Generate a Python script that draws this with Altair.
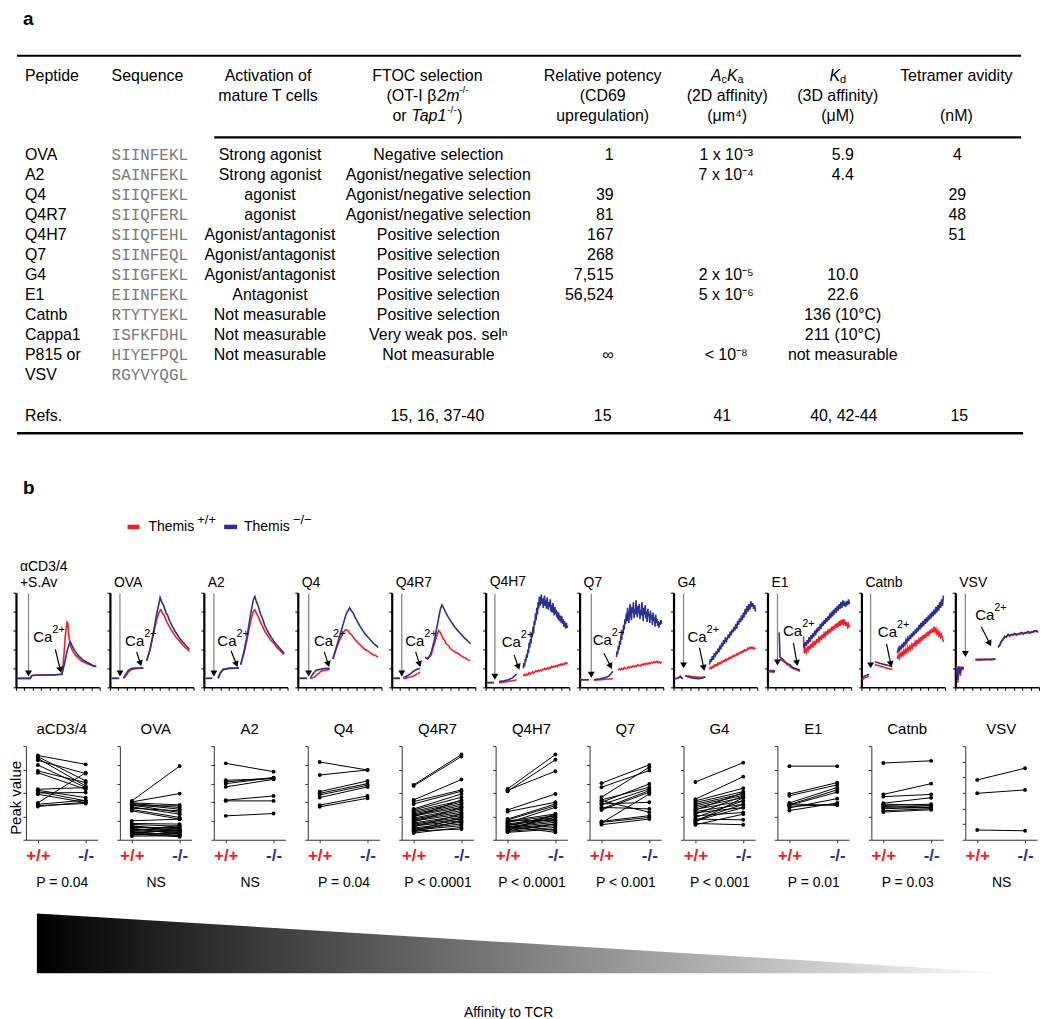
import math
import altair as alt
import pandas as pd

FONT = "Liberation Sans, Arial, Helvetica, sans-serif"
MONO = "Courier New, Liberation Mono, monospace"
RED = "#f0202a"
BLUE = "#2c3291"
OX = 8  # page x of figure origin (layout)

# ======================= part a : table data =======================
PEPTIDES = ["OVA", "A2", "Q4", "Q4R7", "Q4H7", "Q7", "G4", "E1", "Catnb", "Cappa1", "P815 or", "VSV"]
SEQUENCES = ["SIINFEKL", "SAINFEKL", "SIIQFEKL", "SIIQFERL", "SIIQFEHL", "SIINFEQL", "SIIGFEKL",
             "EIINFEKL", "RTYTYEKL", "ISFKFDHL", "HIYEFPQL", "RGYVYQGL"]
ACTIVATION = ["Strong agonist", "Strong agonist", "agonist", "agonist", "Agonist/antagonist",
              "Agonist/antagonist", "Agonist/antagonist", "Antagonist", "Not measurable",
              "Not measurable", "Not measurable", ""]
FTOC = ["Negative selection", "Agonist/negative selection", "Agonist/negative selection",
        "Agonist/negative selection", "Positive selection", "Positive selection", "Positive selection",
        "Positive selection", "Positive selection", "Very weak pos. selⁿ", "Not measurable", ""]
POTENCY = ["1", "", "39", "81", "167", "268", "7,515", "56,524", "", "", "∞", ""]
ACKA = ["1 x 10⁻³", "7 x 10⁻⁴", "", "", "", "", "2 x 10⁻⁵", "5 x 10⁻⁶", "", "", "< 10⁻⁸", ""]
KD = ["5.9", "4.4", "", "", "", "", "10.0", "22.6", "136 (10°C)", "211 (10°C)", "not measurable", ""]
TETRAMER = ["4", "", "29", "48", "51", "", "", "", "", "", "", ""]
REFS = {"ftoc": "15, 16, 37-40", "potency": "15", "acka": "41", "kd": "40, 42-44", "tetramer": "15"}

# ======================= part b : calcium traces =======================
TRACE_NAMES = [["αCD3/4", "+S.Av"], "OVA", "A2", "Q4", "Q4R7", "Q4H7", "Q7", "G4", "E1", "Catnb", "VSV"]
# segments: list of (time, value) pairs, or (t_start, t_end, values sampled at equal time steps)
TRACES = [
    {"red": [[(1, 9.5), (17, 9.5), (19, 12.5), (30, 13), (45, 13), (55, 13.5), (57, 30), (59, 55), (61, 69),
              (62, 68), (63, 55), (65, 44), (68, 38), (72, 33), (78, 28), (85, 25), (92, 22.5), (96, 22)]],
     "blue": [[(1, 9.5), (17, 9.5), (19, 12.5), (30, 13), (45, 13), (55, 14), (58, 25), (61, 38), (64, 47),
               (65, 48), (67, 44), (70, 39), (74, 34), (80, 29), (86, 26), (92, 23), (96, 22)]]},
    {"red": [[(2, 9.5), (11, 9.5)], [(16, 9.5), (19, 12), (22, 16), (26, 19), (33, 20), (40, 20.5)],
             [(44, 28), (48, 40), (52, 56), (56, 72), (59, 80), (61, 82), (63, 78), (65, 76), (68, 69), (70, 66),
              (73, 61), (76, 57), (79, 53), (82, 50), (85, 47), (88, 44), (90, 42), (93, 40), (95, 38)]],
     "blue": [[(2, 9.5), (11, 9.5)], [(16, 10), (19, 14), (22, 18), (26, 20), (33, 20.5), (40, 20.5)],
              [(44, 28), (48, 40), (52, 58), (56, 78), (59, 90), (60, 95), (62, 90), (64, 87), (67, 79), (69, 76),
               (72, 69), (75, 64), (78, 59), (81, 55), (84, 51), (87, 48), (90, 45), (93, 42), (95, 40)]]},
    {"red": [[(2, 9.5), (10, 9.5)], [(17, 9.5), (20, 15), (23, 18.5), (30, 20), (42, 20.5)],
             [(44, 24), (48, 36), (52, 52), (56, 70), (59, 80), (61, 82), (63, 78), (65, 75), (68, 68), (70, 65),
              (73, 59), (76, 55), (79, 51), (82, 48), (85, 45), (88, 41), (91, 39), (94, 36), (96, 35)]],
     "blue": [[(2, 9.5), (10, 9.5)], [(17, 10), (20, 16), (23, 19), (30, 20), (42, 20.5)],
              [(44, 24), (48, 38), (52, 56), (56, 78), (59, 92), (61, 96), (63, 90), (65, 86), (68, 77), (70, 73),
               (73, 65), (76, 60), (79, 55), (82, 51), (85, 47), (88, 44), (91, 41), (94, 38), (96, 36)]]},
    {"red": [[(2, 9.5), (11, 9.5)], [(15, 9), (20, 11), (24, 14), (28, 17), (33, 18), (38, 19)],
             [(42, 30), (45, 38), (49, 48), (53, 56), (57, 61), (60, 60), (62, 57), (64, 56), (67, 52), (69, 50),
              (72, 47), (74, 45), (77, 43), (80, 40), (83, 39), (86, 37), (89, 35), (92, 34), (96, 32)]],
     "blue": [[(2, 9.5), (11, 9.5)], [(15, 10), (18, 14), (22, 18), (27, 19), (33, 20), (38, 20)],
              [(42, 30), (46, 42), (50, 54), (54, 66), (58, 78), (62, 84), (64, 81), (66, 79), (69, 73), (71, 70),
               (74, 65), (77, 61), (80, 57), (83, 54), (86, 51), (89, 48), (92, 45), (94, 44), (96, 42)]]},
    {"red": [[(2, 9.5), (10, 9.5)], [(14, 9), (18, 10), (22, 11), (26, 12), (30, 14), (34, 16)],
             [(40, 32), (43, 30), (47, 34), (51, 46), (54, 55), (56, 60), (58, 58), (61, 52), (63, 50), (65, 46),
              (68, 44), (70, 41), (73, 39), (76, 37), (79, 36), (82, 34), (85, 32), (88, 31), (91, 29), (94, 28)]],
     "blue": [[(2, 9.5), (10, 9.5)], [(14, 10), (18, 12), (22, 14), (26, 17), (30, 19), (34, 20)],
              [(40, 32), (43, 30), (47, 36), (51, 50), (55, 68), (58, 82), (60, 87), (62, 84), (64, 80), (67, 75),
               (69, 72), (72, 68), (75, 64), (78, 61), (81, 58), (84, 55), (87, 52), (90, 50), (94, 46)]]},
    {"red": [[(2, 5), (10, 5)], [(16, 5), (25, 6), (32, 7), (37, 8)],
             (45, 98, [12, 13.5, 12.5, 14, 13, 15.5, 14, 15, 16.5, 15, 16, 17.5, 16.5, 18, 17, 18.5, 17.5, 19, 18.5,
                       20, 19, 20.5, 19.5, 21, 20, 22, 21, 22.5, 21.5, 23, 22, 24, 23, 24.5, 23.5, 25, 24, 26, 25,
                       26])],
     "blue": [[(2, 5), (10, 5)], [(16, 6), (22, 7), (27, 8), (32, 10), (37, 14)],
              (45, 98, [20, 26, 22, 30, 27, 35, 31, 40, 36, 47, 42, 51, 46, 58, 53, 64, 57, 70, 66, 78, 71, 84, 77,
                        90, 83, 96, 86, 92, 98, 88, 94, 84, 91, 97, 86, 92, 83, 95, 88, 82, 90, 85, 93, 80, 87, 79,
                        89, 83, 76, 85, 78, 82, 74, 80, 72, 79, 70, 76, 73, 68, 75, 67, 72, 64, 70, 66, 62, 68, 63,
                        65])]},
    {"red": [[(1, 8), (11, 8)], [(17, 7.5), (25, 8), (32, 8.5), (40, 9)],
             (46, 98, [18, 19.5, 18.5, 20, 19, 21, 20, 19.5, 21.5, 20.5, 22, 21, 22.5, 21.5, 23, 22, 24, 23, 22.5,
                       24.5, 23.5, 25, 24, 25.5, 24.5, 26, 25, 26.5, 25.5, 27, 26, 27.5, 26, 27, 25.5, 27])],
     "blue": [[(1, 8), (11, 8)], [(17, 8), (24, 9), (30, 10), (35, 12), (40, 17)],
              (44, 98, [32, 38, 35, 44, 40, 49, 45, 55, 50, 60, 56, 66, 61, 72, 67, 78, 70, 84, 74, 68, 80, 88, 76,
                        71, 85, 79, 90, 73, 83, 77, 92, 80, 74, 86, 78, 88, 72, 82, 76, 90, 79, 70, 84, 77, 87, 73,
                        80, 69, 83, 75, 78, 68, 81, 72, 76, 66, 79, 70, 74, 64, 77, 68, 72, 65, 70, 63, 69, 66, 71,
                        67])]},
    {"red": [[(1, 9), (5, 9.5), (8, 12), (11, 9)],
             [(14, 12), (18, 12), (22, 11.5), (26, 11), (30, 10.5), (34, 10.5), (38, 11)],
             (43, 98, [19, 21, 20, 22, 21, 23.5, 22.5, 24, 23, 25.5, 24.5, 26, 25, 27.5, 26.5, 28, 27.5, 29.5, 28.5,
                       30, 29.5, 31.5, 30.5, 32, 31.5, 33.5, 32.5, 34, 33.5, 35.5, 34.5, 36, 35.5, 37.5, 36.5, 38,
                       37.5, 39.5, 38.5, 40, 39.5, 41.5, 40.5, 42, 41, 42.5, 41, 42, 40.5, 41])],
     "blue": [[(1, 9), (5, 9.5), (8, 11), (11, 9)],
              [(14, 12), (18, 11), (22, 10), (26, 9.5), (30, 9), (34, 9.5), (38, 11)],
              (43, 98, [24, 30, 27, 33, 29, 36, 32, 38, 35, 41, 37, 44, 40, 47, 43, 50, 46, 53, 49, 51, 56, 52, 59,
                        55, 61, 58, 64, 60, 67, 62, 70, 66, 73, 69, 76, 71, 79, 74, 83, 77, 86, 80, 88, 82, 91, 85,
                        89, 83, 87, 80])]},
    {"red": [[(1, 17), (4, 16), (7, 18), (9, 17)],
             [(15, 30), (18, 28), (21, 26), (24, 24), (27, 22), (30, 20), (33, 19), (36, 18), (39, 17)],
             (43, 98, [54, 36, 40, 37, 42, 39, 44, 40, 46, 42, 47, 44, 49, 45, 51, 47, 52, 49, 54, 50, 56, 52, 57,
                       54, 59, 55, 61, 57, 62, 58, 64, 60, 65, 61, 67, 63, 68, 64, 70, 65, 71, 66, 72, 67, 70, 65,
                       69, 64, 67, 63])],
     "blue": [[(1, 17), (4, 18), (7, 16), (9, 17)],
              [(14, 58), (15, 32), (18, 30), (21, 27), (24, 25), (27, 24), (30, 21), (33, 20), (36, 19), (39, 18)],
              (43, 98, [46, 42, 48, 44, 50, 46, 53, 48, 55, 51, 57, 53, 60, 55, 62, 58, 64, 60, 67, 62, 69, 65, 71,
                        67, 73, 69, 75, 71, 78, 73, 80, 75, 82, 77, 84, 79, 86, 81, 88, 83, 90, 84, 92, 86, 89, 85,
                        91, 87, 93, 88])]},
    {"red": [[(1, 8), (4, 10), (7, 11), (9, 12)],
             [(16, 24), (20, 23), (24, 22), (28, 21), (32, 20), (37, 19)],
             (43, 98, [30, 34, 31, 36, 33, 37, 34, 39, 36, 40, 37, 42, 39, 43, 40, 45, 42, 47, 43, 48, 45, 50, 46,
                       51, 48, 53, 49, 55, 51, 56, 52, 58, 54, 59, 55, 61, 57, 62, 58, 64, 59, 62, 57, 60, 55, 58,
                       53, 56, 52, 48])],
     "blue": [[(1, 10), (4, 12), (7, 13), (9, 14)],
              [(16, 27), (20, 26), (24, 25), (28, 24), (32, 23), (37, 22)],
              (43, 98, [36, 41, 38, 44, 40, 46, 42, 48, 45, 50, 47, 52, 49, 55, 51, 57, 53, 59, 55, 61, 57, 63, 59,
                        66, 61, 68, 63, 70, 65, 72, 67, 74, 69, 76, 71, 78, 73, 80, 75, 82, 77, 85, 79, 87, 81, 90,
                        84, 93, 86, 97])]},
    {"red": [[(1, 20), (2, 22), (3, 5), (4, 18), (5, 22), (6, 12), (7, 20), (8, 21), (9, 19), (10, 21)],
             [(24, 29), (30, 29.5), (36, 29), (42, 30), (48, 29.5)],
             (51, 99, [42, 45, 48, 51, 53, 54, 55, 54, 56, 55, 56, 55, 57, 56, 57, 56, 58, 57, 58, 57, 59, 58, 59,
                       60, 58])],
     "blue": [[(1, 21), (2, 20), (3, 8), (4, 21), (5, 20), (6, 15), (7, 21), (8, 20), (9, 21), (10, 20)],
              [(24, 29.5), (30, 29), (36, 30), (42, 29), (48, 30)],
              (51, 99, [43, 44, 49, 50, 54, 53, 56, 55, 55, 56, 57, 56, 56, 57, 58, 57, 57, 58, 59, 58, 58, 59, 60,
                        59, 59])]},
]
# stimulus addition (time, baseline reached) and Ca2+ addition arrows (from -> to), label centre
STIM_ARROW = [(15, 10.5), (12, 10.5), (12, 10.5), (13, 10.5), (12, 10.5), (11, 7), (14, 9), (12, 19), (12, 22),
              (11, 19), (12, 31)]
CA_ARROW = [((47, 40), (54, 15)), ((32, 37.5), (37.7, 21.7)), ((32.5, 38.6), (40.5, 21)), ((31.7, 37.5), (37.7, 21)),
            ((28.6, 37.5), (34.5, 21)), ((34, 34), (40.5, 18)), ((29, 36), (39, 19)), ((31, 42), (37, 17)),
            ((31, 47), (36, 22)), ((30, 46), (36, 21)), ((31, 64), (43, 43))]
CA_LABEL = [(39, 53), (36.5, 49), (34.5, 49), (37.7, 49), (34.5, 49), (37.5, 48), (34, 50), (35, 53), (37, 60),
            (38, 58), (42, 76)]

# ======================= part b : paired peak values =======================
DOT_NAMES = ["aCD3/4", "OVA", "A2", "Q4", "Q4R7", "Q4H7", "Q7", "G4", "E1", "Catnb", "VSV"]
P_VALUES = ["P = 0.04", "NS", "NS", "P = 0.04", "P < 0.0001", "P < 0.0001", "P < 0.001", "P < 0.001",
            "P = 0.01", "P = 0.03", "NS"]
DOT_TICKS = [4, 5, 5, 5, 4, 4, 5, 4, 4, 4, 6]
PEAK_WT = [
    [90, 88.7, 86.9, 84.8, 79.8, 73.4, 71.6, 53.9, 52.8, 51.4, 50, 48.6, 39.4, 37.9, 36.5, 35.5],
    [41.5, 40.4, 39.4, 38.7, 37.9, 37.2, 36.2, 35.1, 33.7, 32.3, 30.9, 20.2, 17.4, 14.9, 13.1, 12.1, 11, 9.9, 8.9,
     7.8, 6.7, 6, 5, 3.9, 16.3, 14.2, 11.7, 9.6, 7.4, 5.3],
    [81.6, 63.5, 61.7, 59.9, 56.4, 42.2, 41.5, 25.5],
    [83, 69.1, 51.4, 49.6, 47.9, 45, 36.9, 35.1],
    [58.6, 57.5, 42.5, 40.7, 38.2, 32.9, 31.8, 30.4, 28.9, 27.5, 26.4, 25.4, 24.3, 23.2, 22.1, 21.1, 20, 18.9, 17.9,
     16.8, 15.7, 14.6, 13.6, 12.5, 11.4, 10.4, 9.3, 8.2, 7.1, 9.6],
    [54.3, 51.8, 52.9, 31.8, 30, 22.1, 21.1, 20, 18.9, 17.9, 16.8, 15.7, 15, 13.9, 13.2, 12.1, 11.1, 10, 8.9, 7.9,
     20.4, 17.5, 14.6, 11.8, 9.6],
    [60.4, 56.1, 45.4, 42.5, 40, 38.2, 37.5, 32.9, 31.8, 41.8, 34.6, 19.6, 17.9, 16.1, 18.6],
    [61.7, 43.3, 41.5, 39.7, 37.9, 36.2, 34.4, 32.6, 31.6, 30.1, 28.7, 27.3, 25.5, 23.8, 22, 20.2, 18.8, 17.4, 16,
     20.9],
    [78.6, 48.8, 47, 39.3, 37.5, 35.8, 34, 31.2, 36.8, 38.2],
    [81.9, 48.4, 46, 39, 36.6, 34.5, 33.1, 31, 29.6, 38, 35.5],
    [63.9, 49.6, 10.4],
]
PEAK_KO = [
    [80.5, 62.8, 57.4, 70.6, 55.7, 61, 53.9, 55.7, 45, 41.5, 50.4, 39.7, 71.6, 42.2, 38.7, 40.1],
    [78.7, 49.3, 37.2, 34.4, 32.6, 29.1, 36.2, 27.3, 30.9, 23.8, 22, 22, 16.7, 9.6, 13.1, 6, 11.3, 7.8, 4.3, 9.6, 6,
     3.2, 7.8, 4.3, 14.5, 11.7, 8.9, 15.2, 10.3, 6.7],
    [72.7, 65.2, 66.3, 66.3, 64.5, 46.8, 41.5, 28],
    [74.5, 74.5, 62.8, 59.9, 58.2, 56.4, 46.8, 44.3],
    [91, 88.9, 64.3, 53.2, 51.8, 48.9, 45.4, 41.8, 40, 38.2, 36.4, 34.6, 42.5, 32.9, 31.1, 29.3, 27.5, 34.6, 25.7,
     23.9, 22.1, 20.4, 27.5, 18.6, 16.8, 15, 11.4, 20.4, 13.2, 23.9],
    [91, 85.4, 73.2, 48.9, 40, 38.2, 36.4, 27.5, 25.7, 34.6, 23.9, 22.1, 25.7, 20.4, 18.6, 16.8, 15, 27.5, 13.2,
     11.4, 20.4, 9.6, 7.9, 23.9, 16.8],
    [80, 73.9, 77.5, 56.1, 59.6, 40, 54.3, 52.5, 50.7, 29.3, 32.9, 25.7, 48.9, 22.1, 23.9],
    [82.3, 67.4, 55, 51.4, 49.3, 47.5, 45, 41.5, 50.4, 37.9, 34.4, 46.8, 29.1, 41.5, 21.3, 34.4, 45, 16, 27.3, 37.9],
    [78.6, 61, 58.6, 55.8, 53.3, 37.5, 43.9, 39.3, 50.9, 36.8],
    [84.3, 59.9, 48.4, 44.9, 38, 36.2, 34.5, 33.1, 32, 36.6, 33.8],
    [76.4, 53.2, 9.6],
]
GENOTYPES = ["+/+", "-/-"]
Y_TITLE = "Peak value"
AFFINITY_X = [0, 1]
AFFINITY = [1, 0]

# ======================= layout constants =======================
TABLE_W, TABLE_H = 1016, 545
TR_W, TR_H, TR_SP = 84, 95, 10.3
DOT_W, DOT_H, DOT_SP = 72, 94, 22.3

# ======================= build table =======================
TY = alt.Scale(domain=[20, -7.25], nice=False, zero=False)
layers = []


def txt(rows, texts, px, align="left", font=FONT, size=16, color="black", style="normal", weight="normal", dy=0):
    df = pd.DataFrame({"row": rows, "t": texts})
    df = df[df["t"] != ""]
    layers.append(
        alt.Chart(df).mark_text(align=align, baseline="middle", font=font, fontSize=size, color=color,
                                fontStyle=style, fontWeight=weight, dy=dy)
        .encode(x=alt.value(px - OX), y=alt.Y("row:Q", scale=TY, axis=None), text="t:N"))


def hrule(row, x0, x1, w=2, color="black"):
    layers.append(
        alt.Chart(pd.DataFrame({"row": [row]})).mark_rule(strokeWidth=w, color=color)
        .encode(x=alt.value(x0 - OX), x2=alt.value(x1 - OX), y=alt.Y("row:Q", scale=TY, axis=None)))


R = list(range(len(PEPTIDES)))
txt([-6.85], ["a"], 21, size=19, weight="bold")
hrule(-5.0, 15, 1023, 2.2)
hrule(-0.9, 213, 1023, 2.2)
hrule(13.95, 15, 1025, 2.6)
# headers
txt([-4], ["Peptide"], 23)
txt([-4], ["Sequence"], 110)
txt([-4, -3], ["Activation of", "mature T cells"], 267, align="center")
txt([-4], ["FTOC selection"], 427, align="center")
txt([-3], ["(OT-I β"], 386)
txt([-3], ["2m"], 437, style="italic")
txt([-3], ["-/-"], 459, size=10, dy=-6)
txt([-2], ["or "], 392)
txt([-2], ["Tap1"], 411, style="italic")
txt([-2], ["-/-"], 447, size=10, dy=-6)
txt([-2], [")"], 457)
txt([-4, -3, -2], ["Relative potency", "(CD69", "upregulation)"], 603, align="center")
txt([-4], ["A"], 711.5, style="italic")
txt([-4], ["c"], 722.2, size=11, dy=4)
txt([-4], ["K"], 727.7, style="italic")
txt([-4], ["a"], 738.4, size=11, dy=4)
txt([-3, -2], ["(2D affinity)", "(μm⁴)"], 728, align="center")
txt([-4], ["K"], 830.6, style="italic")
txt([-4], ["d"], 841.3, size=11, dy=4)
txt([-3, -2], ["(3D affinity)", "(μM)"], 839, align="center")
txt([-4, -2], ["Tetramer avidity", "(nM)"], 958, align="center")
# body
txt(R, PEPTIDES, 23)
txt(R, SEQUENCES, 110, font=MONO, color="#7a7a7a")
txt(R, ACTIVATION, 269, align="center")
txt(R, FTOC, 438, align="center")
txt(R, POTENCY, 614, align="right")
txt(R, ACKA, 727, align="center")
txt(R, KD, 844, align="center")
txt(R, TETRAMER, 959, align="center")
txt([13.1], ["Refs."], 23)
txt([13.1], [REFS["ftoc"]], 437, align="center")
txt([13.1], [REFS["potency"]], 603, align="center")
txt([13.1], [REFS["acka"]], 723, align="center")
txt([13.1], [REFS["kd"]], 845, align="center")
txt([13.1], [REFS["tetramer"]], 961, align="center")
# part b label and legend
txt([16.7], ["b"], 21, size=19, weight="bold")
hrule(18.65, 126, 138, 4.5, RED)
hrule(18.65, 223, 236, 4.5, BLUE)
txt([18.65], ["Themis"], 147, size=14)
txt([18.65], ["+/+"], 196, size=13, dy=-7)
txt([18.65], ["Themis"], 243, size=14)
txt([18.65], ["−/−"], 292, size=13, dy=-7)

table = alt.layer(*layers).properties(width=TABLE_W, height=TABLE_H)

# ======================= trace panels =======================
XS = alt.Scale(domain=[0, 100], nice=False, zero=False)
YS = alt.Scale(domain=[0, 100], nice=False, zero=False)


def seg_points(seg):
    if isinstance(seg, tuple):
        x0, x1, ys = seg
        n = len(ys)
        return [(x0 + (x1 - x0) * k / (n - 1), y) for k, y in enumerate(ys)]
    return seg


def trace_panel(i):
    rows = []
    for series in ("red", "blue"):
        for si, seg in enumerate(TRACES[i][series]):
            for x, y in seg_points(seg):
                rows.append({"x": x, "y": y, "s": series, "k": f"{series}{si}"})
    df = pd.DataFrame(rows)
    xa = alt.Axis(values=list(range(0, 101, 10)), labels=False, title=None, tickSize=3, domainWidth=1.5,
                  grid=False, domainColor="black", tickColor="black")
    ya = alt.Axis(values=list(range(0, 101, 20)), labels=False, title=None, tickSize=3, domainWidth=2.2,
                  grid=False, domainColor="black", tickColor="black")
    X = alt.X("x:Q", scale=XS, axis=xa)
    Y = alt.Y("y:Q", scale=YS, axis=ya)
    red = alt.Chart(df[df["s"] == "red"]).mark_line(color=RED, strokeWidth=1.6).encode(x=X, y=Y, detail="k:N")
    blue = alt.Chart(df[df["s"] == "blue"]).mark_line(color=BLUE, strokeWidth=1.6).encode(x=X, y=Y, detail="k:N")

    sx, sy = STIM_ARROW[i]
    stim = alt.Chart(pd.DataFrame({"x": [sx], "y": [99], "y2": [sy + 6]})).mark_rule(
        color="#8a8a8a", strokeWidth=1.3).encode(x=X, y=Y, y2="y2:Q")
    (x1, y1), (x2, y2) = CA_ARROW[i]
    pxx, pxy = TR_W / 100, TR_H / 100
    dxp, dyp = (x2 - x1) * pxx, -(y2 - y1) * pxy
    L = math.hypot(dxp, dyp)
    ux, uy = dxp / L, dyp / L
    ang = (math.degrees(math.atan2(-ux, uy)) + 360) % 360
    heads = pd.DataFrame({
        "x": [sx, x2 - ux * 3.5 / pxx],
        "y": [sy + 4.0 / pxy, y2 + uy * 3.5 / pxy],
        "ang": [0, ang],
    })
    ca = alt.Chart(pd.DataFrame({"x": [x1], "y": [y1], "x2": [x2 - ux * 4 / pxx], "y2": [y2 + uy * 4 / pxy]})).mark_rule(
        color="black", strokeWidth=1.2).encode(x=X, y=Y, x2="x2:Q", y2="y2:Q")
    hd = alt.Chart(heads).mark_point(shape="triangle-down", filled=True, size=48, color="black", opacity=1,
                                      strokeWidth=0).encode(x=X, y=Y, angle=alt.Angle("ang:Q", scale=None))
    lx, ly = CA_LABEL[i]
    lab = pd.DataFrame({"x": [lx + 4.5], "y": [ly]})
    t1 = alt.Chart(lab).mark_text(text="Ca", align="right", baseline="middle", fontSize=15, font=FONT).encode(x=X, y=Y)
    t2 = alt.Chart(lab).mark_text(text="2+", align="left", baseline="middle", fontSize=11, dy=-7, font=FONT).encode(
        x=X, y=Y)
    return alt.layer(red, blue, stim, ca, hd, t1, t2).properties(
        width=TR_W, height=TR_H,
        title=alt.TitleParams(text=TRACE_NAMES[i], anchor="start", frame="group", dx=4, offset=2, fontSize=14,
                              fontWeight="normal", font=FONT, lineHeight=16))


# ======================= dot panels =======================
def dot_panel(i):
    rows = []
    for k, (a, b) in enumerate(zip(PEAK_WT[i], PEAK_KO[i])):
        rows.append({"pair": k, "g": GENOTYPES[0], "v": a})
        rows.append({"pair": k, "g": GENOTYPES[1], "v": b})
    df = pd.DataFrame(rows)
    n = DOT_TICKS[i]
    X = alt.X("g:N", sort=GENOTYPES, scale=alt.Scale(domain=GENOTYPES, padding=0.25),
              axis=alt.Axis(title=P_VALUES[i], labelAngle=0, labelFontSize=17, labelFontWeight="bold",
                            labelColor=alt.condition("datum.value == '+/+'", alt.value(RED), alt.value(BLUE)),
                            tickSize=3, labelPadding=5, titlePadding=12, titleFont=FONT, titleFontSize=14,
                            titleFontWeight="normal", domainColor="#333", tickColor="#333"))
    Y = alt.Y("v:Q", scale=alt.Scale(domain=[0, 100], nice=False),
              axis=alt.Axis(values=[100 * j / n for j in range(n + 1)], labels=False, tickSize=3, grid=False,
                            domainColor="#333", tickColor="#333", title=None))
    lines = alt.Chart(df).mark_line(color="black", strokeWidth=1).encode(x=X, y=Y, detail="pair:N")
    pts = alt.Chart(df).mark_circle(color="black", size=15, opacity=1).encode(x=X, y=Y)
    return alt.layer(lines, pts).properties(
        width=DOT_W, height=DOT_H,
        title=alt.TitleParams(text=DOT_NAMES[i], anchor="middle", frame="group", offset=9, fontSize=15,
                              fontWeight="normal", font=FONT))


def spacer(w, h, label=None):
    if label is None:
        return alt.Chart(pd.DataFrame({"s": [0]})).mark_point(opacity=0).properties(width=w, height=h)
    return alt.Chart(pd.DataFrame({"t": [label]})).mark_text(
        angle=270, fontSize=15, font=FONT, baseline="middle", align="center", color="black").encode(
        x=alt.value(6), y=alt.value(52), text="t:N").properties(width=w, height=h)


# ======================= affinity gradient =======================
grad = alt.Chart(pd.DataFrame({"x": AFFINITY_X, "a": AFFINITY})).mark_area(
    color=alt.Gradient(gradient="linear",
                       stops=[alt.GradientStop(color="#000000", offset=0), alt.GradientStop(color="#ffffff", offset=1)],
                       x1=0, x2=1, y1=0, y2=0)
).encode(
    x=alt.X("x:Q", scale=alt.Scale(domain=[0, 1], nice=False),
            axis=alt.Axis(domain=False, ticks=False, labels=False, grid=False, title="Affinity to TCR",
                          titleX=473, titleY=39, titleAlign="center", titleBaseline="middle", titleFont=FONT,
                          titleFontSize=14, titleFontWeight="normal")),
    y=alt.Y("a:Q", scale=alt.Scale(domain=[0, 1], nice=False), axis=None),
).properties(width=980, height=60)

traces_inner = alt.hconcat(*[trace_panel(i) for i in range(11)], spacing=TR_SP, bounds="flush")
traces_row = alt.hconcat(spacer(6, TR_H), traces_inner, spacing=0, bounds="flush")
dots_inner = alt.hconcat(*[dot_panel(i) for i in range(11)], spacing=DOT_SP, bounds="flush")
dots_row = alt.hconcat(spacer(16, DOT_H, Y_TITLE), dots_inner, spacing=0, bounds="flush")
grad_row = alt.hconcat(spacer(27, 60), grad, spacing=0, bounds="flush")
inner2 = alt.vconcat(dots_row, grad_row, spacing=24)
inner1 = alt.vconcat(traces_row, inner2, spacing=30)
chart = alt.vconcat(table, inner1, spacing=6).properties(padding=0)
chart = chart.configure(font=FONT).configure_view(stroke=None).configure_title(color="black")

chart.save("out.html", embed_options={"renderer": "svg", "actions": False})
